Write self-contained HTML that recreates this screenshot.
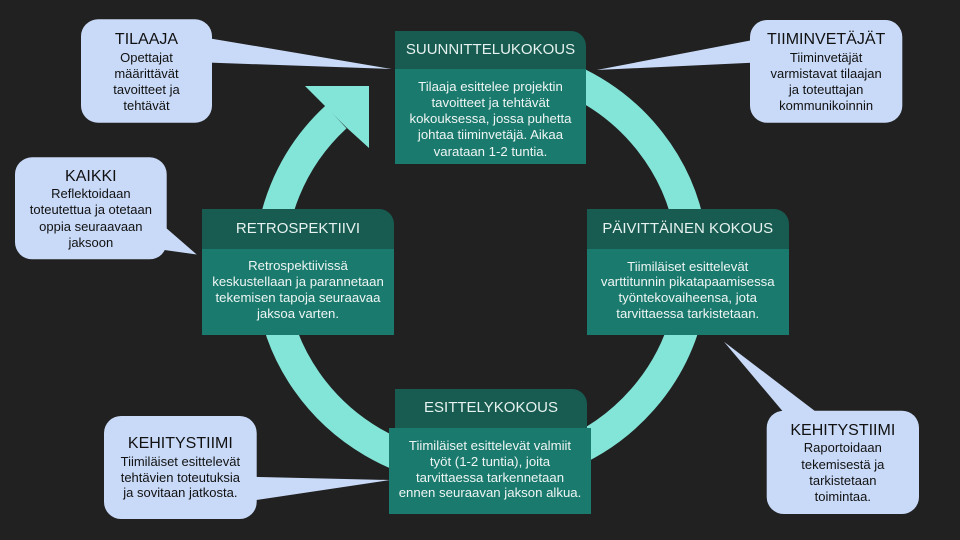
<!DOCTYPE html>
<html>
<head>
<meta charset="utf-8">
<style>
  html, body { margin: 0; padding: 0; background: #212121; }
  #wrap { position: relative; width: 960px; height: 540px; background: #212121; overflow: hidden; font-family: "Liberation Sans", Arial, sans-serif; }
  svg { position: absolute; left: 0; top: 0; }
  .hdr { position: absolute; background: #175b51; border-top-right-radius: 15px; color: #e6f2ef; font-size: 15px; text-align: center; white-space: nowrap; }
  .bdy { position: absolute; background: #1b7a6e; }
  .t { position: absolute; text-align: center; white-space: nowrap; }
  .bt { color: #eef5f3; font-size: 13.2px; }
  .ct { color: #111; }
  .ct .ti { font-size: 16px; line-height: 18px; display: block; }
  .ct .tx { font-size: 13px; display: block; }
</style>
</head>
<body>
<div id="wrap">
  <svg width="960" height="540" viewBox="0 0 960 540">
    <!-- ring -->
    <path d="M 482 60.5 A 211.5 205.5 0 1 1 336 117" fill="none" stroke="#83e4d8" stroke-width="31"/>
    <polygon points="305,86 369,86 369,148 347,128 325,106" fill="#83e4d8"/>
    <!-- callouts -->
    <g fill="#c9daf8">
      <rect x="81" y="19.3" width="131" height="103.4" rx="17"/>
      <polygon points="200,36.7 391.7,69 200,62.3"/>
      <rect x="15" y="157.3" width="151.7" height="102" rx="17"/>
      <polygon points="150,214 196.7,254.5 150,248"/>
      <rect x="750" y="20" width="152.3" height="102.7" rx="17"/>
      <polygon points="762,38.3 596.7,70 762,62.3"/>
      <rect x="104" y="416" width="152.7" height="103" rx="17"/>
      <polygon points="245,476.7 390,480 245,501.7"/>
      <rect x="766.7" y="410.7" width="152.3" height="103.3" rx="17"/>
      <polygon points="791.7,422 724,341.7 829.3,422"/>
    </g>
  </svg>

  <!-- SUUNNITTELUKOKOUS -->
  <div class="hdr" style="left:395px;top:31px;width:191px;height:38.5px;line-height:38px;">SUUNNITTELUKOKOUS</div>
  <div class="bdy" style="left:395px;top:69.3px;width:191px;height:95px;"></div>
  <div class="t bt" style="left:395px;top:78.5px;width:191px;line-height:16.25px;">Tilaaja esittelee projektin<br>tavoitteet ja tehtävät<br>kokouksessa, jossa puhetta<br>johtaa tiiminvetäjä. Aikaa<br>varataan 1-2 tuntia.</div>

  <!-- RETROSPEKTIIVI -->
  <div class="hdr" style="left:202px;top:209.3px;width:192px;height:39.4px;line-height:40px;">RETROSPEKTIIVI</div>
  <div class="bdy" style="left:202px;top:248.7px;width:192px;height:86.3px;"></div>
  <div class="t bt" style="left:202px;top:258px;width:192px;line-height:16.1px;">Retrospektiivissä<br>keskustellaan ja parannetaan<br>tekemisen tapoja seuraavaa<br>jaksoa varten.</div>

  <!-- PÄIVITTÄINEN KOKOUS -->
  <div class="hdr" style="left:587px;top:209.3px;width:201.5px;height:39.4px;line-height:39.4px;">PÄIVITTÄINEN KOKOUS</div>
  <div class="bdy" style="left:587px;top:248.7px;width:201.5px;height:86.3px;"></div>
  <div class="t bt" style="left:587px;top:258.6px;width:201.5px;line-height:15.8px;">Tiimiläiset esittelevät<br>varttitunnin pikatapaamisessa<br>työntekovaiheensa, jota<br>tarvittaessa tarkistetaan.</div>

  <!-- ESITTELYKOKOUS -->
  <div class="hdr" style="left:395px;top:389px;width:192px;height:39px;line-height:38px;">ESITTELYKOKOUS</div>
  <div class="bdy" style="left:389px;top:427.7px;width:202px;height:86.6px;"></div>
  <div class="t bt" style="left:389px;top:438px;width:202px;line-height:15.8px;">Tiimiläiset esittelevät valmiit<br>työt (1-2 tuntia), joita<br>tarvittaessa tarkennetaan<br>ennen seuraavan jakson alkua.</div>

  <!-- callout texts -->
  <div class="t ct" style="left:81px;top:31px;width:131px;"><span class="ti">TILAAJA</span><span class="tx" style="line-height:16.3px;margin-top:0.5px;">Opettajat<br>määrittävät<br>tavoitteet ja<br>tehtävät</span></div>

  <div class="t ct" style="left:15px;top:167.7px;width:151.7px;"><span class="ti">KAIKKI</span><span class="tx" style="line-height:16.4px;margin-top:0px;">Reflektoidaan<br>toteutettua ja otetaan<br>oppia seuraavaan<br>jaksoon</span></div>

  <div class="t ct" style="left:750px;top:31px;width:152.3px;"><span class="ti">TIIMINVETÄJÄT</span><span class="tx" style="line-height:16.1px;margin-top:0.5px;">Tiiminvetäjät<br>varmistavat tilaajan<br>ja toteuttajan<br>kommunikoinnin</span></div>

  <div class="t ct" style="left:104px;top:435.3px;width:152.7px;"><span class="ti">KEHITYSTIIMI</span><span class="tx" style="line-height:15.8px;margin-top:0.5px;">Tiimiläiset esittelevät<br>tehtävien toteutuksia<br>ja sovitaan jatkosta.</span></div>

  <div class="t ct" style="left:766.7px;top:422px;width:152.3px;"><span class="ti">KEHITYSTIIMI</span><span class="tx" style="line-height:16.2px;margin-top:0.3px;">Raportoidaan<br>tekemisestä ja<br>tarkistetaan<br>toimintaa.</span></div>
</div>
</body>
</html>
